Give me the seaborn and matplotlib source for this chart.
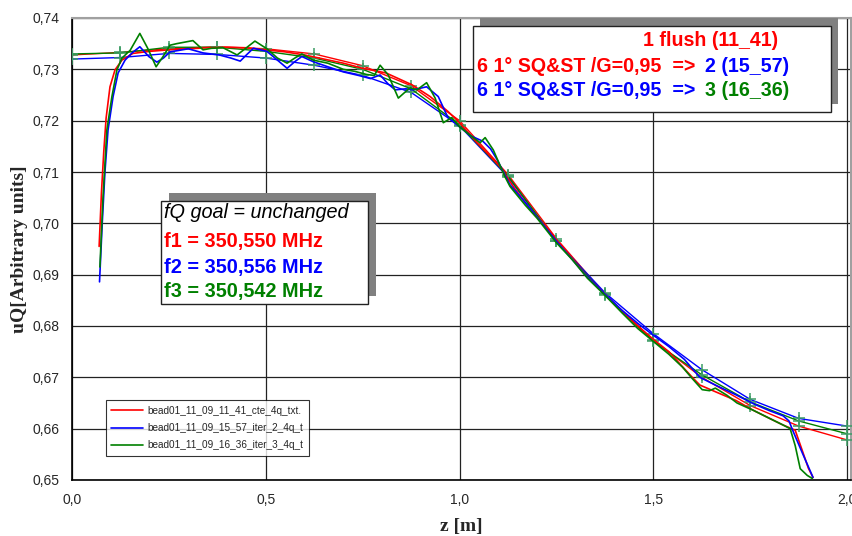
import numpy as np
import pandas as pd
import matplotlib
matplotlib.use("Agg")
import matplotlib.pyplot as plt
from matplotlib.patches import Rectangle
from matplotlib.ticker import FuncFormatter
import seaborn as sns

# ---------------- data ----------------
red_label = "bead01_11_09_11_41_cte_4q_txt."
blue_label = "bead01_11_09_15_57_iter_2_4q_t"
green_label = "bead01_11_09_16_36_iter_3_4q_t"

red_x = [0.070, 0.076, 0.082, 0.088, 0.098, 0.111, 0.129, 0.157, 0.20, 0.25, 0.30, 0.35, 0.40, 0.45,
         0.50, 0.55, 0.60, 0.65, 0.70, 0.75, 0.81, 0.877, 0.924, 0.97, 1.00, 1.045, 1.07, 1.105,
         1.14, 1.18, 1.22, 1.25, 1.29, 1.33, 1.375, 1.42, 1.46, 1.50, 1.54, 1.57, 1.603, 1.62,
         1.66, 1.713, 1.76, 1.80, 1.835, 1.866, 1.884, 1.90, 1.912]
red_y = [0.6955, 0.7060, 0.7140, 0.7205, 0.7266, 0.7299, 0.7318, 0.7331, 0.7335, 0.7338, 0.7340,
         0.7342, 0.7343, 0.7342, 0.7338, 0.7334, 0.7328, 0.7320, 0.7312, 0.7302, 0.7293, 0.7270,
         0.7247, 0.7218, 0.7196, 0.7157, 0.7138, 0.7110, 0.7070, 0.7030, 0.6995, 0.6968, 0.6932,
         0.6895, 0.6862, 0.6828, 0.6800, 0.6774, 0.6750, 0.6725, 0.6698, 0.6685, 0.6672, 0.6655,
         0.6635, 0.6620, 0.6607, 0.6597, 0.6558, 0.6523, 0.6505]

blue_x = [0.071, 0.078, 0.085, 0.093, 0.106, 0.119, 0.137, 0.155, 0.175, 0.198, 0.219, 0.236, 0.253,
          0.30, 0.338, 0.38, 0.41, 0.434, 0.45, 0.468, 0.503, 0.53, 0.555, 0.575, 0.593, 0.622, 0.66,
          0.70, 0.74, 0.77, 0.795, 0.815, 0.834, 0.86, 0.88, 0.915, 0.945, 0.97, 1.00, 1.03, 1.06,
          1.08, 1.097, 1.13, 1.17, 1.20, 1.25, 1.29, 1.33, 1.375, 1.42, 1.46, 1.50, 1.54, 1.58,
          1.62, 1.66, 1.713, 1.76, 1.80, 1.835, 1.85, 1.86, 1.886, 1.912]
blue_y = [0.6886, 0.7000, 0.7100, 0.7182, 0.7247, 0.7293, 0.7318, 0.7332, 0.7344, 0.7325, 0.7314,
          0.7322, 0.7334, 0.7340, 0.7332, 0.7328, 0.7322, 0.7316, 0.7328, 0.7341, 0.7335, 0.7318,
          0.7302, 0.7315, 0.7325, 0.7315, 0.7305, 0.7295, 0.7288, 0.7282, 0.7289, 0.7272, 0.7260,
          0.7262, 0.7260, 0.7266, 0.7247, 0.7206, 0.7188, 0.7170, 0.7160, 0.7145, 0.7124, 0.7075,
          0.7040, 0.7012, 0.6965, 0.6930, 0.6895, 0.6862, 0.6830, 0.6805, 0.6782, 0.6760, 0.6735,
          0.6700, 0.6685, 0.6666, 0.6648, 0.6635, 0.6625, 0.6615, 0.6596, 0.6550, 0.6505]

green_x = [0.072, 0.080, 0.090, 0.103, 0.116, 0.129, 0.150, 0.175, 0.196, 0.217, 0.235, 0.253, 0.27,
           0.312, 0.338, 0.36, 0.39, 0.426, 0.45, 0.472, 0.503, 0.53, 0.555, 0.575, 0.593, 0.622,
           0.66, 0.70, 0.73, 0.76, 0.78, 0.795, 0.816, 0.842, 0.872, 0.89, 0.915, 0.937, 0.958,
           0.98, 1.00, 1.03, 1.053, 1.066, 1.087, 1.117, 1.13, 1.17, 1.20, 1.25, 1.29, 1.33, 1.375,
           1.42, 1.46, 1.50, 1.54, 1.575, 1.60, 1.626, 1.645, 1.66, 1.69, 1.716, 1.76, 1.80, 1.835,
           1.853, 1.866, 1.879, 1.897, 1.91]
green_y = [0.6915, 0.7050, 0.7182, 0.7247, 0.7299, 0.7322, 0.7337, 0.7370, 0.7340, 0.7305, 0.7325,
           0.7347, 0.7350, 0.7356, 0.7338, 0.7341, 0.7342, 0.7328, 0.7342, 0.7355, 0.7340, 0.7322,
           0.7312, 0.7322, 0.7330, 0.7318, 0.7312, 0.7300, 0.7296, 0.7290, 0.7288, 0.7308, 0.7289,
           0.7244, 0.7264, 0.7260, 0.7274, 0.7244, 0.7196, 0.7206, 0.7188, 0.7170, 0.7157, 0.7167,
           0.7143, 0.7091, 0.7072, 0.7035, 0.7010, 0.6962, 0.6930, 0.6893, 0.6860, 0.6825, 0.6795,
           0.6770, 0.6745, 0.6720, 0.6698, 0.6676, 0.6674, 0.6679, 0.6665, 0.6650, 0.6635, 0.6620,
           0.6607, 0.6600, 0.6567, 0.6522, 0.6509, 0.6503]

fit_x = [0.0, 0.125, 0.25, 0.375, 0.5, 0.625, 0.75, 0.875, 1.0, 1.125, 1.25, 1.375, 1.5, 1.625,
         1.75, 1.875, 2.0]
red_fit = [0.7328, 0.7333, 0.7340, 0.7344, 0.7340, 0.7330, 0.7307, 0.7268, 0.7200, 0.7095, 0.6970,
           0.6862, 0.6772, 0.6700, 0.6645, 0.6605, 0.6578]
blue_fit = [0.7320, 0.7323, 0.7331, 0.7329, 0.7322, 0.7308, 0.7288, 0.7255, 0.7190, 0.7090, 0.6965,
            0.6865, 0.6785, 0.6715, 0.6657, 0.6620, 0.6605]
green_fit = [0.7330, 0.7332, 0.7343, 0.7343, 0.7335, 0.7322, 0.7300, 0.7262, 0.7192, 0.7092, 0.6965,
             0.6860, 0.6770, 0.6705, 0.6652, 0.6615, 0.6590]

x_ticks = [0.0, 0.5, 1.0, 1.5, 2.0]
y_ticks = [0.65, 0.66, 0.67, 0.68, 0.69, 0.70, 0.71, 0.72, 0.73, 0.74]

# ---------------- figure ----------------
sns.set_style("white")
plt.rcParams['font.family'] = ['Liberation Sans', 'DejaVu Sans']

W, H = 853, 536
fig = plt.figure(figsize=(W / 100, H / 100), dpi=100)
ax = fig.add_axes([72 / W, 1 - 480 / H, (851 - 72) / W, (480 - 18) / H])

RED, BLUE, GREEN = '#ff0000', '#0000ff', '#008000'
MARK = '#3c9c64'

# fit curves (with + markers)
for fy, col in [(red_fit, RED), (blue_fit, BLUE), (green_fit, GREEN)]:
    sns.lineplot(x=fit_x, y=fy, ax=ax, color=col, lw=1.0, sort=False, estimator=None,
                 marker='+', markersize=8, markeredgewidth=1.1, markeredgecolor=MARK,
                 legend=False, zorder=3)

# raw curves
for xs, ys, col, lab in [(red_x, red_y, RED, red_label), (blue_x, blue_y, BLUE, blue_label),
                         (green_x, green_y, GREEN, green_label)]:
    df = pd.DataFrame({'z': xs, 'uQ': ys})
    sns.lineplot(data=df, x='z', y='uQ', ax=ax, color=col, lw=1.2, sort=False,
                 estimator=None, label=lab, zorder=4)

ax.set_xlim(0, 2.01)
ax.set_ylim(0.65, 0.74)
ax.set_xticks(x_ticks)
ax.set_yticks(y_ticks)
fmt = lambda d: FuncFormatter(lambda v, p: f"{v:.{d}f}".replace('.', ','))
ax.xaxis.set_major_formatter(fmt(1))
ax.yaxis.set_major_formatter(fmt(2))
ax.grid(True, color='#222222', lw=0.9)
ax.set_axisbelow(True)
ax.tick_params(axis='both', direction='out', length=4, width=1, color='black',
               labelsize=10, pad=5)
for s in ['left', 'bottom']:
    ax.spines[s].set_color('black')
    ax.spines[s].set_linewidth(1.2)
for s in ['top', 'right']:
    ax.spines[s].set_color('#a0a0a0')
    ax.spines[s].set_linewidth(1.5)

ax.set_xlabel('z [m]', family='Liberation Serif', fontweight='bold', fontsize=14, labelpad=8)
ax.set_ylabel('uQ[Arbitrary units]', family='Liberation Serif', fontweight='bold', fontsize=14,
              labelpad=3)

leg = ax.legend(loc='upper left', bbox_to_anchor=((106 - 72) / 779, 1 - (400 - 18) / 462),
                borderaxespad=0, fontsize=7.2, frameon=True, fancybox=False, edgecolor='black',
                handlelength=3.2, handletextpad=0.4, borderpad=0.55, labelspacing=0.75)
leg.get_frame().set_linewidth(0.8)
for h in leg.get_lines():
    h.set_linewidth(1.2)


# ---------------- annotation boxes ----------------
def px(x, y):
    return x / W, 1 - y / H


def box(x0, y0, x1, y1, dx, dy):
    fig.patches.append(Rectangle(px(x0 + dx, y1 - dy), (x1 - x0) / W, (y1 - y0) / H,
                                 transform=fig.transFigure, facecolor='#808080',
                                 edgecolor='none', zorder=5))
    fig.patches.append(Rectangle(px(x0, y1), (x1 - x0) / W, (y1 - y0) / H,
                                 transform=fig.transFigure, facecolor='white',
                                 edgecolor='#222222', lw=1.0, zorder=6))


box(473, 26, 831, 112, 7, 8)
box(161, 201, 368, 304, 8, 8)

tk = dict(transform=fig.transFigure, fontsize=14.1, fontweight='bold', va='center', zorder=7)
fig.text(*px(643, 40), '1 flush (11_41)', color=RED, ha='left', **tk)
fig.text(*px(477, 66), '6 1° SQ&ST /G=0,95  =>', color=RED, ha='left', **tk)
fig.text(*px(705, 66), '2 (15_57)', color=BLUE, ha='left', **tk)
fig.text(*px(477, 91), '6 1° SQ&ST /G=0,95  =>', color=BLUE, ha='left', **tk)
fig.text(*px(705, 91), '3 (16_36)', color=GREEN, ha='left', **tk)

tk2 = dict(transform=fig.transFigure, fontsize=14.3, va='center', ha='left', zorder=7)
fig.text(*px(164, 213), 'fQ goal = unchanged', color='black', style='italic', **tk2)
fig.text(*px(164, 241), 'f1 = 350,550 MHz', color=RED, fontweight='bold', **tk2)
fig.text(*px(164, 267), 'f2 = 350,556 MHz', color=BLUE, fontweight='bold', **tk2)
fig.text(*px(164, 292), 'f3 = 350,542 MHz', color=GREEN, fontweight='bold', **tk2)

fig.savefig('out.png', dpi=100)
